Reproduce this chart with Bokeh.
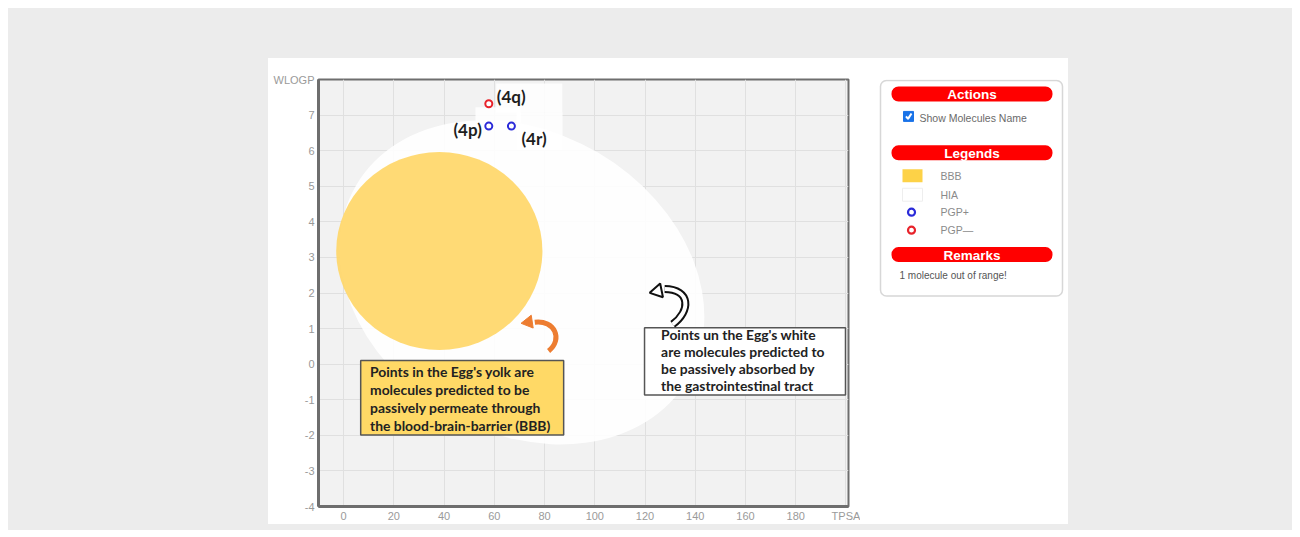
import math
from bokeh.plotting import figure
from bokeh.models import Range1d, FixedTicker, BoxAnnotation, Spacer
from bokeh.layouts import row, column
from bokeh.core.properties import value
from bokeh.embed import file_html
from bokeh.resources import INLINE

# ---------------- data ----------------
molecules = ["(4p)", "(4q)", "(4r)"]
tpsa = [57.8, 57.8, 66.8]
wlogp = [6.69, 7.32, 6.69]
pgp_class = ["PGP+", "PGP—", "PGP+"]

egg_regions = ["HIA", "BBB"]
egg_center_tpsa = [71.0, 38.1]
egg_center_wlogp = [2.30, 3.18]
egg_width_tpsa = [153.0, 82.1]
egg_height_wlogp = [8.45, 5.56]
egg_angle = [-0.53, 0.0]

x_ticks = [0, 20, 40, 60, 80, 100, 120, 140, 160, 180, 200]
x_tick_overrides = {200: "TPSA"}
y_ticks = [-4, -3, -2, -1, 0, 1, 2, 3, 4, 5, 6, 7, 8]
y_tick_overrides = {-4: "-4", -3: "-3", -2: "-2", -1: "-1", 8: "WLOGP"}

yolk_note = ["Points in the Egg's yolk are",
             "molecules predicted to be",
             "passively permeate through",
             "the blood-brain-barrier (BBB)"]
white_note = ["Points un the Egg's white",
              "are molecules predicted to",
              "be passively absorbed by",
              "the gastrointestinal tract"]

legend_items = ["BBB", "HIA", "PGP+", "PGP—"]
remark = "1 molecule out of range!"

# ---------------- main chart ----------------
GRAY = "#ececec"
p = figure(width=592, height=466, x_range=Range1d(-10, 201), y_range=Range1d(-4, 8),
           output_backend="svg", toolbar_location=None, title=None,
           min_border_left=50, min_border_right=12, min_border_top=21, min_border_bottom=17,
           background_fill_color="#f2f2f2", border_fill_color="white",
           outline_line_color="#6e6e6e", outline_line_width=2)

for ax, ticks, ov in ((p.xaxis[0], x_ticks, x_tick_overrides), (p.yaxis[0], y_ticks, y_tick_overrides)):
    ax.ticker = FixedTicker(ticks=ticks)
    ax.major_label_overrides = ov
    ax.major_tick_line_color = None
    ax.minor_tick_line_color = None
    ax.major_tick_out = 0
    ax.major_tick_in = 0
    ax.axis_line_color = "#6e6e6e"
    ax.axis_line_width = 3
    ax.major_label_text_color = "#9a9a9a"
    ax.major_label_text_font = "Liberation Sans"
    ax.major_label_text_font_size = "11px"
p.xaxis.major_label_standoff = 3
p.yaxis.major_label_standoff = 4
p.grid.grid_line_color = "#e0e0e0"
p.grid.grid_line_width = 1

# egg white and yolk
p.ellipse(x=egg_center_tpsa[0], y=egg_center_wlogp[0], width=egg_width_tpsa[0],
          height=egg_height_wlogp[0], angle=egg_angle[0],
          fill_color="white", fill_alpha=0.9, line_color=None)
p.ellipse(x=egg_center_tpsa[1], y=egg_center_wlogp[1], width=egg_width_tpsa[1],
          height=egg_height_wlogp[1], angle=egg_angle[1],
          fill_color="#ffd666", fill_alpha=0.9, line_color=None)

# white patches behind labels (screenshot artefacts)
patch_x = [73.9, 61.5, 78.0]
patch_y = [7.48, 7.01, 6.55]
patch_w = [26.3, 18.0, 18.3]
patch_h = [0.81, 0.42, 1.06]
p.rect(x=patch_x, y=patch_y, width=patch_w, height=patch_h, fill_color="white",
       fill_alpha=0.85, line_color=None)

# molecules
pgp_colors = {"PGP+": "#2b2bd9", "PGP—": "#e8232b"}
p.scatter(x=tpsa, y=wlogp, marker="circle", size=7, line_width=2, fill_color="white",
          line_color=[pgp_colors[c] for c in pgp_class])

label_style = {"(4p)": ("right", -7, 3), "(4q)": ("left", 8, -7), "(4r)": ("left", 10, 12)}
for name, xx, yy in zip(molecules, tpsa, wlogp):
    al, dx, dy = label_style[name]
    p.text(x=[xx], y=[yy], text=[name], text_align=al, text_baseline="middle",
           x_offset=dx, y_offset=dy, text_font=value("Lato"), text_font_style="bold",
           text_font_size="17px", text_color="#1e1e1e")

# annotation boxes
yolk_box = dict(left=6.8, right=87.6, top=0.10, bottom=-1.99)
white_box = dict(left=119.8, right=199.8, top=1.02, bottom=-0.87)
p.quad(**yolk_box, fill_color="#ffd966", line_color="#555555", line_width=1.5)
p.quad(**white_box, fill_color="white", line_color="#555555", line_width=1.5)
p.text(x=[10.5] * 4, y=[-0.20, -0.71, -1.21, -1.71], text=yolk_note, text_baseline="middle",
       text_font=value("Lato"), text_font_style="bold", text_font_size="13.9px", text_color="#222222")
p.text(x=[126.4] * 4, y=[0.83, 0.36, -0.12, -0.59], text=white_note, text_baseline="middle",
       text_font=value("Lato"), text_font_style="bold", text_font_size="13.9px", text_color="#222222")

# curved arrows
p.bezier(x0=[81.6], y0=[0.37], x1=[76.1], y1=[1.18], cx0=[87.5], cy0=[0.70], cx1=[84.0], cy1=[1.25],
         line_color="#ed7d31", line_width=5)
p.scatter(x=[73.6], y=[1.18], marker="triangle", size=13, angle=math.pi / 2 + 0.15,
          fill_color="#ed7d31", line_color="#ed7d31")
p.bezier(x0=[131.0], y0=[1.12], x1=[127.8], y1=[2.11], cx0=[138.2], cy0=[1.49], cx1=[138.2], cy1=[2.10],
         line_color="#111111", line_width=8)
p.bezier(x0=[131.0], y0=[1.12], x1=[127.8], y1=[2.11], cx0=[138.2], cy0=[1.49], cx1=[138.2], cy1=[2.10],
         line_color="white", line_width=4)
p.scatter(x=[125.0], y=[2.05], marker="triangle", size=14, angle=math.pi / 2 + 0.2,
          fill_color="white", line_color="#111111", line_width=2)

# ---------------- side panel (page-pixel coordinates; frame aligned with main frame) ----------------
q = figure(width=208, height=466, x_range=Range1d(860, 1068), y_range=Range1d(507, 79),
           output_backend="svg", toolbar_location=None, min_border=0, title=None,
           x_axis_location=None, y_axis_location=None,
           background_fill_color="white", border_fill_color="white", outline_line_color=None)
q.grid.visible = False

q.add_layout(BoxAnnotation(left=880, right=1062, top=80, bottom=296, fill_color="white", fill_alpha=1,
                           line_color="#7a7a7a", line_width=1.5, border_radius=6, level="underlay"))
for top, title in ((86, "Actions"), (145, "Legends"), (247, "Remarks")):
    q.add_layout(BoxAnnotation(left=891, right=1052, top=top, bottom=top + 15, fill_color="#ff0000",
                               fill_alpha=1, line_color=None, border_radius=7, level="underlay"))
    q.text(x=[971.5], y=[top + 8], text=[title], text_align="center", text_baseline="middle",
           text_font=value("Liberation Sans"), text_font_style="bold", text_font_size="13.5px",
           text_color="white")

# checkbox
q.quad(left=903, right=913, top=111, bottom=121, fill_color="#1a73e8", line_color="#1a73e8")
q.line(x=[905.5, 907.5, 911], y=[116, 118.5, 113], line_color="white", line_width=2)
q.text(x=[919], y=[118], text=["Show Molecules Name"], text_baseline="middle",
       text_font=value("Liberation Sans"), text_font_size="10.5px", text_color="#6a6a6a")

# legend swatches
q.quad(left=902, right=922, top=169, bottom=182, fill_color="#fdd247", line_color=None)
q.quad(left=902, right=922, top=188, bottom=201, fill_color="white", line_color="#eeeeee")
q.scatter(x=[911, 911], y=[212, 230], marker="circle", size=7, line_width=2.2, fill_color="white",
          line_color=["#2b2bd9", "#e8232b"])
q.text(x=[940] * 4, y=[176, 195, 212, 230], text=legend_items, text_baseline="middle",
       text_font=value("Liberation Sans"), text_font_size="10.5px", text_color="#8a8a8a")
q.text(x=[899], y=[275], text=[remark], text_baseline="middle",
       text_font=value("Liberation Sans"), text_font_size="10px", text_color="#555555")

# ---------------- page layout ----------------
def gs(w, h):
    return Spacer(width=w, height=h, styles={"background-color": GRAY})

layout = column(
    Spacer(width=1300, height=8),
    row(Spacer(width=8, height=522),
        column(gs(1284, 50),
               row(gs(260, 466), p, q, gs(224, 466)),
               gs(1284, 6))),
)

open("out.html", "w").write(file_html(layout, INLINE))
